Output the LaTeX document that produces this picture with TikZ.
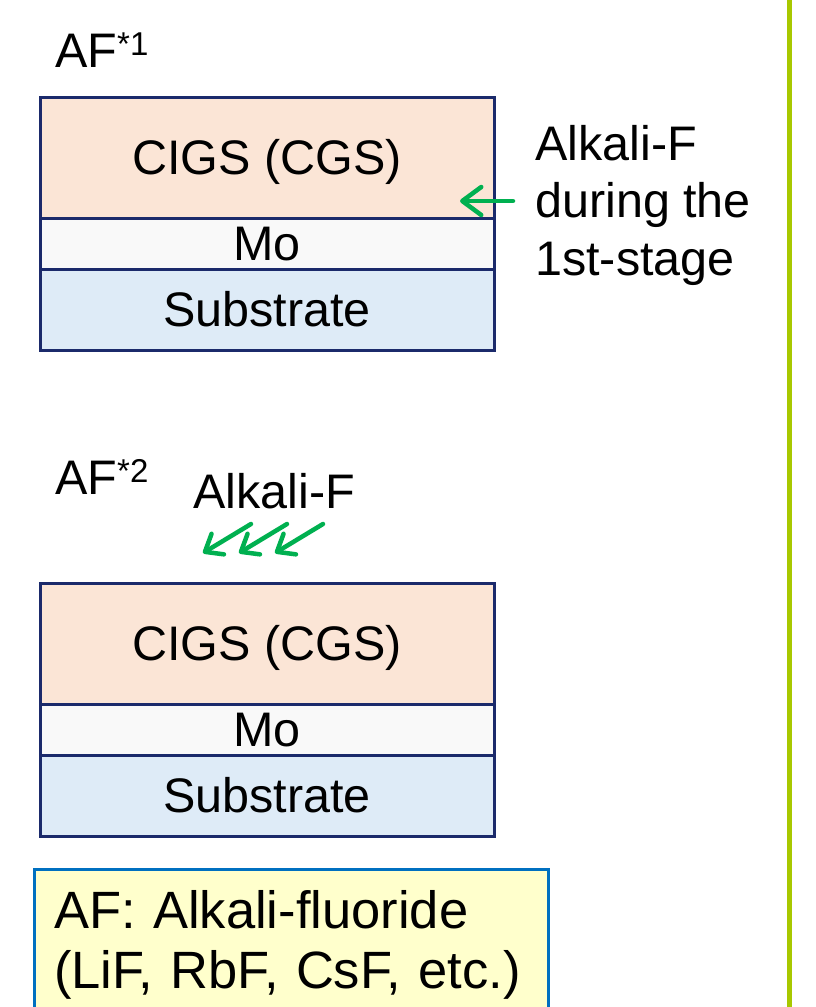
\documentclass[tikz,border=0pt]{standalone}
\usepackage{fontspec}
\setmainfont{Liberation Sans}
\usepackage{xcolor}
\usetikzlibrary{positioning,arrows.meta}

\definecolor{layerline}{HTML}{1B2A6B}
\definecolor{cigsfill}{HTML}{FBE5D6}
\definecolor{mofill}{HTML}{F9F9F9}
\definecolor{subfill}{HTML}{DEEBF7}
\definecolor{afgreen}{HTML}{00B050}
\definecolor{keyfill}{HTML}{FFFFCC}
\definecolor{keyline}{HTML}{0070C0}
\definecolor{divider}{HTML}{A8C800}

\newcommand{\afsup}[1]{\raisebox{12pt}{\fontsize{33}{33}\selectfont #1}}

\begin{document}
\begin{tikzpicture}[
  x=1pt, y=-1pt,
  font=\fontsize{48.5}{56}\selectfont,
  layer/.style={draw=layerline, line width=3pt, minimum width=454pt,
                inner sep=0pt, outer sep=0pt, text height=34.7pt, text depth=0pt},
  cigs/.style={layer, fill=cigsfill, minimum height=121pt},
  mo/.style={layer, fill=mofill, minimum height=51pt},
  sub/.style={layer, fill=subfill, minimum height=81pt},
  head/.style={inner sep=0pt, anchor=south west},
  note/.style={inner sep=0pt, align=left, font=\fontsize{48.5}{57.5}\selectfont},
  key/.style={draw=keyline, fill=keyfill, line width=3pt, outer sep=0pt,
              align=left, text width=474pt, inner xsep=20pt, inner ysep=21pt,
              font=\fontsize{52.5}{60}\selectfont},
  feed/.style={draw=afgreen, line width=4.5pt, line cap=round,
               -{Straight Barb[length=19pt, width=28pt, round]}},
  feedsmall/.style={feed, -{Straight Barb[length=15pt, width=24pt, round]}},
]
\useasboundingbox (0,0) rectangle (816,1007);
\clip (0,0) rectangle (816,1007);
% ---- divider on the right --------------------------------------------
\draw[divider, line width=5pt] (789,0) -- (789,1007);
% ---- AF*1: alkali-F supplied during the 1st stage --------------------
\node[cigs, anchor=north west] (cigs1) at (40,97) {CIGS (CGS)};
\node[mo, below=0pt of cigs1] (mo1) {Mo};
\node[sub, below=0pt of mo1] (sub1) {Substrate};
\node[head, above right=29pt and 15pt of cigs1.north west] (af1) {AF\afsup{*1}};
\node[note, anchor=north west] (note1) at (535,125)
  {Alkali-F\\during the\\1st-stage};
\coordinate (src1) at (513,201);
\coordinate (in1) at (460,201);
\draw[feed] (src1) -- (in1);
% ---- AF*2: post-deposition alkali-F ----------------------------------
\node[cigs, below=233pt of sub1] (cigs2) {CIGS (CGS)};
\node[mo, below=0pt of cigs2] (mo2) {Mo};
\node[sub, below=0pt of mo2] (sub2) {Substrate};
\node[head, above right=88pt and 15pt of cigs2.north west] (af2) {AF\afsup{*2}};
\node[head] (alk2) at (193,509) {Alkali-F};
\foreach \i in {0,1,2}
  \draw[feedsmall] (251+36*\i,524) coordinate (drop\i) -- ++(-48,29);
% ---- legend -----------------------------------------------------------
\node[key, anchor=north west] (legend) at (34,869)
  {AF: Alkali-fluoride\\(LiF, RbF, CsF, etc.)};
\end{tikzpicture}
\end{document}
